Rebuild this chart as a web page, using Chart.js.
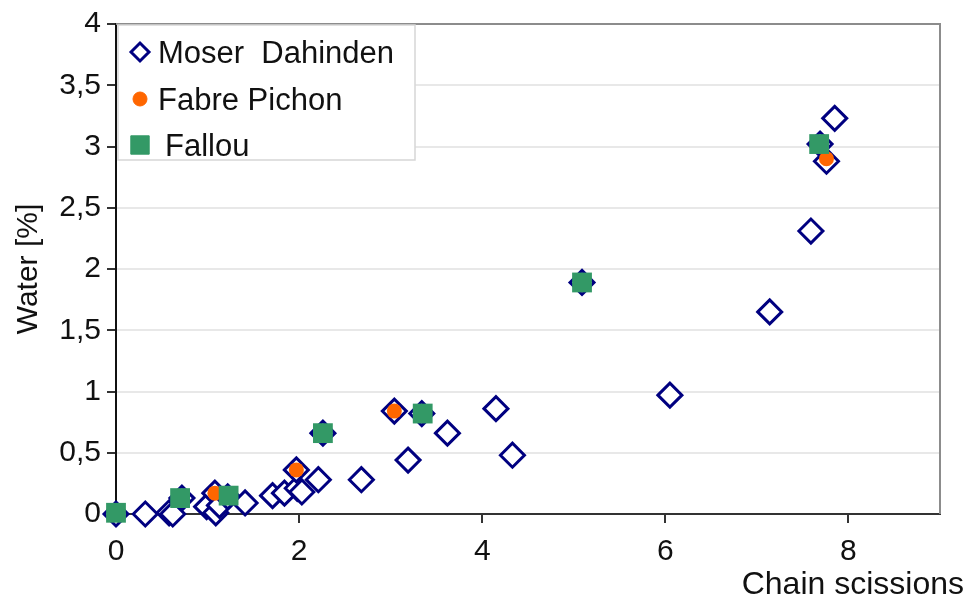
<!DOCTYPE html>
<html>
<head>
<meta charset="utf-8">
<script src="https://cdn.jsdelivr.net/npm/chart.js"></script>
<style>
  body { margin: 0; background: #fff; }
  #wrap { width: 968px; height: 605px; }
</style>
</head>
<body>
<div id="wrap"><canvas id="chart" width="968" height="605"></canvas></div>
<script>
// ==================== DATA ====================
const moserX = [0, 0.32, 0.58, 0.62, 0.72, 0.99, 1.08, 1.09, 1.13, 1.22, 1.41, 1.71, 1.84, 1.98, 2.03, 1.97, 2.21, 2.26, 2.68, 3.04, 3.19, 3.34, 3.62, 4.15, 4.33, 5.09, 6.05, 7.14, 7.59, 7.69, 7.76, 7.85];
const moserY = [0, 0, 0.01, 0, 0.13, 0.06, 0.17, 0.01, 0.07, 0.14, 0.09, 0.15, 0.17, 0.21, 0.18, 0.36, 0.28, 0.66, 0.28, 0.84, 0.44, 0.82, 0.66, 0.86, 0.48, 1.89, 0.97, 1.65, 2.31, 3.02, 2.88, 3.23];

const fabreX = [1.08, 1.97, 3.04, 7.76];
const fabreY = [0.17, 0.36, 0.84, 2.90];

const fallouX = [0, 0.70, 1.23, 2.26, 3.35, 5.09, 7.68];
const fallouY = [0.01, 0.13, 0.15, 0.66, 0.82, 1.89, 3.02];

const seriesLabels = ['Moser  Dahinden', 'Fabre Pichon', 'Fallou'];
const xTickLabels = ['0', '2', '4', '6', '8'];
const yTickLabels = ['0', '0,5', '1', '1,5', '2', '2,5', '3', '3,5', '4'];
const xTitle = 'Chain scissions';
const yTitle = 'Water [%]';

const FONT = "'Liberation Sans', Arial, sans-serif";
const toPoints = (xs, ys) => xs.map((x, i) => ({ x: x, y: ys[i] }));

// ==================== PLUGINS ====================
// top/right frame of the plot area
const frame = {
  id: 'frame',
  beforeDatasetsDraw(chart) {
    const { ctx, chartArea: a } = chart;
    ctx.save();
    ctx.strokeStyle = '#8c8c8c';
    ctx.lineWidth = 2;
    ctx.beginPath();
    ctx.moveTo(a.left, a.top);
    ctx.lineTo(a.right, a.top);
    ctx.lineTo(a.right, a.bottom);
    ctx.stroke();
    ctx.restore();
  }
};

// legend box in the upper left of the plot + x title at bottom right
const boxLegend = {
  id: 'boxLegend',
  afterDraw(chart) {
    const { ctx, chartArea: a } = chart;
    ctx.save();
    const bx = a.left + 2, by = a.top + 1, bw = 297, bh = 135;
    ctx.fillStyle = '#fff';
    ctx.fillRect(bx, by, bw, bh);
    ctx.strokeStyle = '#d6d6d6';
    ctx.lineWidth = 1.5;
    ctx.strokeRect(bx, by, bw, bh);

    const rows = [27, 74, 120];
    const legendSize = [9, 7, 13];
    ctx.font = '31px ' + FONT;
    ctx.textBaseline = 'middle';
    ctx.textAlign = 'left';
    chart.data.datasets.forEach((ds, i) => {
      const y = by + rows[i];
      const mx = bx + 22;
      ctx.fillStyle = ds.backgroundColor;
      ctx.strokeStyle = ds.borderColor;
      ctx.lineWidth = i === 0 ? 3 : 1;
      Chart.helpers.drawPoint(ctx, { pointStyle: ds.pointStyle, radius: legendSize[i], borderWidth: ctx.lineWidth, rotation: 0 }, mx, y);
      ctx.fillStyle = '#111';
      ctx.fillText(ds.label, bx + 40 + (i === 2 ? 7 : 0), y + 2);
    });

    ctx.font = '32px ' + FONT;
    ctx.textAlign = 'right';
    ctx.fillStyle = '#111';
    ctx.fillText(xTitle, a.right + 24, 585);
    ctx.restore();
  }
};

// ==================== CHART ====================
new Chart(document.getElementById('chart'), {
  type: 'scatter',
  data: {
    datasets: [
      {
        label: seriesLabels[0],
        data: toPoints(moserX, moserY),
        pointStyle: 'rectRot',
        pointRadius: 12,
        pointBorderWidth: 3,
        backgroundColor: '#ffffff',
        borderColor: '#000080',
        clip: false,
        order: 3
      },
      {
        label: seriesLabels[1],
        data: toPoints(fabreX, fabreY),
        pointStyle: 'circle',
        pointRadius: 7.5,
        pointBorderWidth: 0,
        backgroundColor: '#ff6600',
        borderColor: '#ff6600',
        clip: false,
        order: 2
      },
      {
        label: seriesLabels[2],
        data: toPoints(fallouX, fallouY),
        pointStyle: 'rect',
        pointRadius: 14,
        pointBorderWidth: 0,
        backgroundColor: '#339966',
        borderColor: '#339966',
        clip: false,
        order: 1
      }
    ]
  },
  options: {
    responsive: false,
    animation: false,
    events: [],
    layout: { padding: { top: 22, right: 28, bottom: 0, left: 0 } },
    plugins: {
      legend: { display: false },
      tooltip: { enabled: false }
    },
    scales: {
      x: {
        type: 'linear',
        min: 0,
        max: 9,
        afterFit: s => { s.height = 91; },
        ticks: {
          stepSize: 2,
          includeBounds: false,
          padding: 11,
          color: '#111',
          font: { family: FONT, size: 30 },
          callback: (v, i) => xTickLabels[i]
        },
        grid: { drawOnChartArea: false, tickLength: 9, tickColor: '#333', lineWidth: 2 },
        border: { color: '#333', width: 2 }
      },
      y: {
        min: 0,
        max: 4,
        afterFit: s => { s.width = 116; },
        ticks: {
          stepSize: 0.5,
          padding: 6,
          color: '#111',
          font: { family: FONT, size: 30 },
          callback: (v, i) => yTickLabels[i]
        },
        title: {
          display: true,
          text: yTitle,
          color: '#111',
          font: { family: FONT, size: 30 },
          padding: { top: 11, bottom: 0 }
        },
        grid: { color: '#e8e8e8', lineWidth: 2, tickLength: 9, tickColor: '#333' },
        border: { color: '#111', width: 2 }
      }
    }
  },
  plugins: [frame, boxLegend]
});
</script>
</body>
</html>
